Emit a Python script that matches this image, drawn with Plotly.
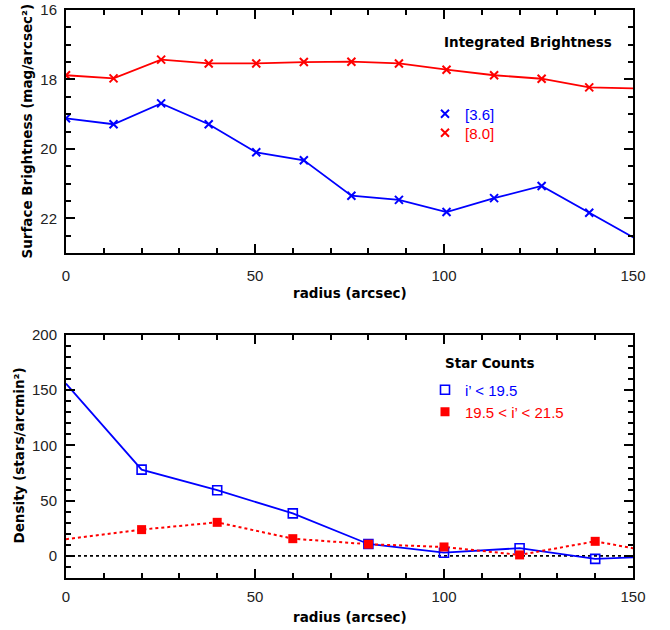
import plotly.graph_objects as go

# ---- data: integrated surface brightness ----
radius_sb = [0, 12.58, 25.17, 37.75, 50.33, 62.92, 75.5, 88.08, 100.67, 113.25, 125.83, 138.42, 151.0]
sb_36 = [19.12, 19.29, 18.69, 19.29, 20.10, 20.33, 21.35, 21.47, 21.82, 21.42, 21.07, 21.84, 22.61]
sb_80 = [17.88, 17.97, 17.43, 17.54, 17.54, 17.50, 17.49, 17.54, 17.72, 17.88, 17.98, 18.23, 18.26]

# ---- data: star counts ----
radius_sc = [0, 20, 40, 60, 80, 100, 120, 140, 160]
dens_bright = [156.0, 78.1, 59.5, 38.5, 10.8, 2.9, 7.0, -2.7, 0.0]
dens_faint = [15.1, 23.8, 30.4, 15.6, 10.6, 8.1, 0.9, 13.2, 0.8]

x_tick_step = 50
sb_tick_step = 2
sc_tick_step = 50

BLUE = "#0000ff"
RED = "#ff0000"
TICKFONT = dict(family="Liberation Sans, Arial", size=15, color="#222")
TITLEFONT = dict(family="DejaVu Sans", size=13.5, color="black", weight="bold")
LEGFONT = dict(family="Liberation Sans, Arial", size=15)

fig = go.Figure()

def within(xs, ys, lo, hi, lo_incl):
    px, py = [], []
    for a, b in zip(xs, ys):
        if (a >= lo if lo_incl else a > lo) and a <= hi:
            px.append(a)
            py.append(b)
    return px, py

def colored(text, col):
    return f"<span style='color:{col}'>{text}</span>"

# top panel lines
for ys, col in [(sb_36, BLUE), (sb_80, RED)]:
    fig.add_trace(go.Scatter(x=radius_sb, y=ys, mode="lines", line=dict(color=col, width=1.8),
                             showlegend=False, xaxis="x", yaxis="y", hoverinfo="skip"))
for ys, col, name, leg in [(sb_36, BLUE, "[3.6]", "legend"), (sb_80, RED, "[8.0]", "legend2")]:
    mx, my = within(radius_sb, ys, 0, 150, True)
    fig.add_trace(go.Scatter(x=mx, y=my, mode="markers", name=colored(name, col),
                             marker=dict(symbol="x-thin", size=8, line=dict(color=col, width=2), color=col),
                             legend=leg, xaxis="x", yaxis="y"))

# bottom panel lines
fig.add_trace(go.Scatter(x=radius_sc, y=dens_bright, mode="lines", line=dict(color=BLUE, width=1.8),
                         showlegend=False, xaxis="x2", yaxis="y2", hoverinfo="skip"))
fig.add_trace(go.Scatter(x=radius_sc, y=dens_faint, mode="lines", line=dict(color=RED, width=2, dash="dot"),
                         showlegend=False, xaxis="x2", yaxis="y2", hoverinfo="skip"))
mx, my = within(radius_sc, dens_bright, 0, 150, False)
fig.add_trace(go.Scatter(x=mx, y=my, mode="markers", name=colored("i’ < 19.5", BLUE),
                         marker=dict(symbol="square-open", size=9, color=BLUE, line=dict(color=BLUE, width=1.6)),
                         legend="legend3", xaxis="x2", yaxis="y2"))
mx, my = within(radius_sc, dens_faint, 0, 150, False)
fig.add_trace(go.Scatter(x=mx, y=my, mode="markers", name=colored("19.5 < i’ < 21.5", RED),
                         marker=dict(symbol="square", size=9, color=RED),
                         legend="legend4", xaxis="x2", yaxis="y2"))

W, H = 670, 630
L, R, T, B = 66, 37, 10, 52
PW, PH = W - L - R, H - T - B

def px(xp):
    return (xp - L) / PW

def py(yp):
    return (H - B - yp) / PH

base = dict(showline=True, linewidth=2, linecolor="black", mirror="ticks", automargin=False,
            ticks="inside", ticklen=9, tickwidth=1.5, tickcolor="black", tickmode="linear",
            showgrid=False, zeroline=False, tickfont=TICKFONT)

def minor(step):
    return dict(dtick=step, ticks="inside", ticklen=5, tickcolor="black", tickwidth=1.5, showgrid=False)

fig.add_shape(type="line", xref="x2 domain", yref="y2", x0=0, x1=1, y0=0, y1=0,
              line=dict(color="black", width=1.6, dash="dot"), layer="below")

def leg(xp, yp):
    return dict(x=px(xp), y=py(yp), xanchor="left", yanchor="middle", bgcolor="rgba(0,0,0,0)",
                font=LEGFONT, borderwidth=0)

def label(text, xp, yp, angle=0):
    return dict(text=text, x=px(xp), y=py(yp), xref="paper", yref="paper", showarrow=False,
                font=TITLEFONT, xanchor="center", yanchor="middle", textangle=angle)

fig.update_layout(
    width=W, height=H, margin=dict(l=L, r=R, t=T, b=B, autoexpand=False),
    paper_bgcolor="white", plot_bgcolor="white",
    xaxis=dict(domain=[0, 1], range=[0, 150], tick0=0, dtick=x_tick_step, anchor="y",
               minor=minor(10), ticklabelstandoff=8, **base),
    yaxis=dict(domain=[py(253), 1], range=[23, 16], tick0=16, dtick=sb_tick_step, anchor="x",
               minor=minor(0.5), ticklabelstandoff=4, **base),
    xaxis2=dict(domain=[0, 1], range=[0, 150], tick0=0, dtick=x_tick_step, anchor="y2",
                minor=minor(10), ticklabelstandoff=4, **base),
    yaxis2=dict(domain=[0, py(335)], range=[-20, 200], tick0=0, dtick=sc_tick_step, anchor="x2",
                minor=minor(10), ticklabelstandoff=4, **base),
    legend=leg(425, 114),
    legend2=leg(425, 133),
    legend3=leg(425, 390),
    legend4=leg(425, 412),
    annotations=[
        label("Integrated Brightness", 528, 42),
        label("Star Counts", 490, 363),
        label("radius (arcsec)", 349.5, 292.5),
        label("radius (arcsec)", 349.5, 616.5),
        label("Surface Brightness (mag/arcsec²)", 26, 131.5, -90),
        label("Density (stars/arcmin²)", 18.5, 456, -90),
    ],
)

fig.write_html("out.html")
